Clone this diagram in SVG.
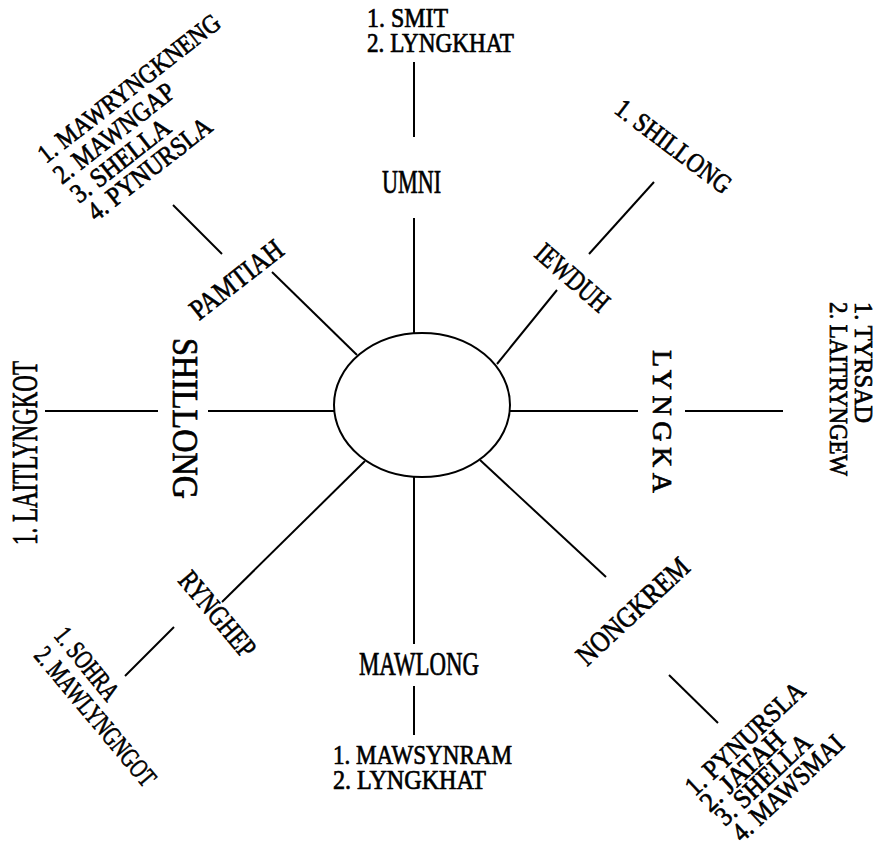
<svg xmlns="http://www.w3.org/2000/svg" width="877" height="851" viewBox="0 0 877 851">
<style>
text{font-family:"Liberation Serif","DejaVu Serif",serif;fill:#000;stroke:#000;stroke-width:0.7}
.l{font-size:27px}
.s{font-size:26px}
.m{font-size:29px}
.b{font-size:33px}
.c line{stroke:#000;stroke-width:2}
</style>
<rect width="877" height="851" fill="#fff"/>
<g id="connectors" class="c">
<line x1="414" y1="62" x2="414" y2="137"/>
<line x1="414" y1="218" x2="414" y2="333"/>
<line x1="589" y1="254" x2="654" y2="182"/>
<line x1="497" y1="364" x2="557" y2="290"/>
<line x1="510" y1="411" x2="638" y2="411"/>
<line x1="685" y1="411" x2="783" y2="411"/>
<line x1="45" y1="411" x2="158" y2="411"/>
<line x1="208" y1="411" x2="334" y2="411"/>
<line x1="173" y1="205" x2="222" y2="254"/>
<line x1="272" y1="272" x2="357" y2="355"/>
<line x1="365" y1="461" x2="222" y2="602"/>
<line x1="174" y1="627" x2="125" y2="676"/>
<line x1="414" y1="477" x2="414" y2="644"/>
<line x1="414" y1="686" x2="414" y2="735"/>
<line x1="480" y1="460" x2="606" y2="577"/>
<line x1="669" y1="675" x2="718" y2="723"/>
</g>
<g id="center">
<ellipse cx="422" cy="405" rx="88" ry="72" fill="#fff" stroke="#000" stroke-width="2"/>
</g>
<g id="umni">
<text class="b" x="382" y="193" textLength="59" lengthAdjust="spacingAndGlyphs">UMNI</text>
<text class="l" x="367" y="27" textLength="81" lengthAdjust="spacingAndGlyphs">1. SMIT</text>
<text class="l" x="367" y="52" textLength="147" lengthAdjust="spacingAndGlyphs">2. LYNGKHAT</text>
</g>
<g id="mawlong">
<text class="b" x="359" y="675" textLength="120" lengthAdjust="spacingAndGlyphs">MAWLONG</text>
<text class="l" x="333" y="764" textLength="179" lengthAdjust="spacingAndGlyphs">1. MAWSYNRAM</text>
<text class="l" x="333" y="789" textLength="153" lengthAdjust="spacingAndGlyphs">2. LYNGKHAT</text>
</g>
<g id="shillong">
<text transform="translate(173,338) rotate(90)" style="font-size:36px" textLength="161" lengthAdjust="spacingAndGlyphs">SHILLONG</text>
<text transform="translate(37,545) rotate(-90)" style="font-size:36px" textLength="184" lengthAdjust="spacingAndGlyphs">1. LAITLYNGKOT</text>
</g>
<g id="lyngka">
<text transform="translate(653,350) rotate(90)" style="font-size:28px" textLength="143" lengthAdjust="spacing">LYNGKA</text>
<text class="s" transform="translate(855,302) rotate(90)" textLength="121" lengthAdjust="spacingAndGlyphs">1. TYRSAD</text>
<text class="s" transform="translate(830,302) rotate(90)" textLength="174" lengthAdjust="spacingAndGlyphs">2. LAITRYNGEW</text>
</g>
<g id="pamtiah">
<text class="m" transform="translate(199,321) rotate(-38)" textLength="110" lengthAdjust="spacingAndGlyphs">PAMTIAH</text>
<text class="s" transform="translate(46,164) rotate(-38)" textLength="224" lengthAdjust="spacingAndGlyphs">1. MAWRYNGKNENG</text>
<text class="l" transform="translate(62,185) rotate(-38)" textLength="146" lengthAdjust="spacingAndGlyphs">2. MAWNGAP</text>
<text class="l" transform="translate(79,204) rotate(-38)" textLength="119" lengthAdjust="spacingAndGlyphs">3. SHELLA</text>
<text class="l" transform="translate(96,222) rotate(-38)" textLength="150" lengthAdjust="spacingAndGlyphs">4. PYNURSLA</text>
</g>
<g id="iewduh">
<text class="m" transform="translate(533,256) rotate(41)" textLength="88" lengthAdjust="spacingAndGlyphs">IEWDUH</text>
<text class="l" transform="translate(613,112) rotate(37)" textLength="138" lengthAdjust="spacingAndGlyphs">1. SHILLONG</text>
</g>
<g id="rynghep">
<text class="m" transform="translate(177,581) rotate(50)" textLength="103" lengthAdjust="spacingAndGlyphs">RYNGHEP</text>
<text class="l" transform="translate(53,636) rotate(51)" textLength="86" lengthAdjust="spacingAndGlyphs">1. SOHRA</text>
<text class="l" transform="translate(33,656) rotate(50)" textLength="173" lengthAdjust="spacingAndGlyphs">2. MAWLYNGNGOT</text>
</g>
<g id="nongkrem">
<text class="m" transform="translate(587,667) rotate(-43)" textLength="143" lengthAdjust="spacingAndGlyphs">NONGKREM</text>
<text class="l" transform="translate(695,797) rotate(-43)" textLength="153" lengthAdjust="spacingAndGlyphs">1. PYNURSLA</text>
<text class="l" transform="translate(710,813) rotate(-43)" textLength="105" lengthAdjust="spacingAndGlyphs">2. JATAH</text>
<text class="l" transform="translate(725,827) rotate(-43)" textLength="121" lengthAdjust="spacingAndGlyphs">3. SHELLA</text>
<text class="l" transform="translate(742,843) rotate(-43)" textLength="142" lengthAdjust="spacingAndGlyphs">4. MAWSMAI</text>
</g>
</svg>
